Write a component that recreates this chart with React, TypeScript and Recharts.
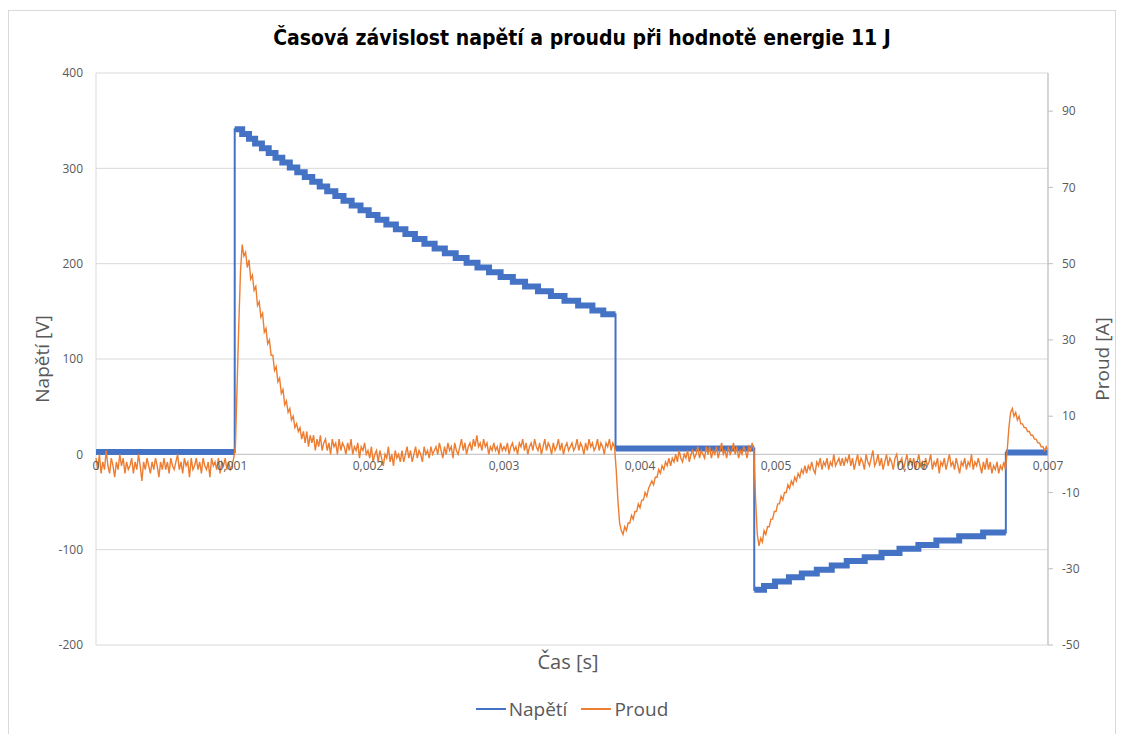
import React from 'react';
import {
  LineChart,
  Line,
  XAxis,
  YAxis,
  CartesianGrid,
  Legend,
  ReferenceLine,
  ReferenceDot,
} from 'recharts';

// osa X [s]
const xTicks = [0, 0.001, 0.002, 0.003, 0.004, 0.005, 0.006, 0.007];
const voltageTicks = [-200, -100, 0, 100, 200, 300, 400];
const currentTicks = [-50, -30, -10, 10, 30, 50, 70, 90];
const legendNames = ['Napětí', 'Proud'];

// Napětí – schodovitý průběh (začátky úrovní v ms, hodnoty ve V)
const voltageTimesMs = [
  0, 1.02, 1.075, 1.125, 1.17, 1.22, 1.27, 1.32, 1.37, 1.425, 1.48, 1.535, 1.59, 1.645, 1.7,
  1.76, 1.82, 1.88, 1.945, 2.005, 2.07, 2.135, 2.205, 2.275, 2.345, 2.415, 2.49, 2.565, 2.645,
  2.725, 2.805, 2.89, 2.975, 3.065, 3.155, 3.25, 3.345, 3.445, 3.545, 3.65, 3.73, 3.82, 4.84,
  4.912, 4.993, 5.095, 5.19, 5.3, 5.41, 5.52, 5.652, 5.776, 5.908, 6.047, 6.179, 6.347, 6.523,
  6.69, 7.0,
];
const voltageLevels = [
  2.5, 341, 336, 331, 326, 321, 316, 311, 306, 301, 296, 291, 286, 281, 276,
  271, 266, 261, 256, 251, 246, 241, 236, 231, 226, 221, 216, 211, 206,
  201, 196, 191, 186, 181, 176, 171, 166, 161, 156, 151, 147, 6, -142,
  -138, -133.5, -129, -125, -121, -116.5, -112, -108, -103.5, -99, -95, -90.5, -86, -82,
  2, 2,
];

// Proud – vzorky po 0,0125 ms, jeden řádek = 0,5 ms (A)
const currentSampleMs = 0.0125;
const currentRows = [
  // 0,0 ms
  [-1, -4, 0, -5, -2, -4, 1, -3, -5, -1, -3, -6, -2, -4, 0, -3, -1, -5, -2, -4,
   -3, -1, -5, -2, -4, 0, -3, -7, -2, -4, -1, -3, -5, -2, -4, -1, -3, -6, -2, -4],
  // 0,5 ms
  [-1, -4, -2, -5, -1, -3, -4, -2, 0, -4, -2, -5, -1, -3, -2, -6, -1, -4, -3, -1,
   -4, -2, -5, -1, -3, -4, -2, -6, -1, -3, -2, -4, -1, -5, -2, -3, -1, -4, -2, -4],
  // 1,0 ms
  [-3, -1, 2, 18, 34, 48, 55, 52, 53, 49, 51, 46, 47, 43, 44, 39, 40, 36, 37, 32,
   33, 29, 30, 26, 26, 22, 23, 19, 20, 16, 17, 13, 14, 11, 12, 9, 10, 7, 8, 6],
  // 1,5 ms
  [7, 4, 6, 3, 6, 2, 5, 3, 5, 1, 4, 2, 5, 1, 3, 4, 1, 3, 0, 4,
   2, 3, 0, 4, 1, 3, 2, 0, 3, 1, 4, 0, 2, 1, 3, -1, 2, 1, 3, 0],
  // 2,0 ms
  [1, -1, 2, -2, 0, 1, -2, 1, -1, -3, 0, -1, 2, -2, 0, -3, 1, -1, 0, -2,
   1, -2, 0, 2, -1, 1, -2, 0, 2, -1, 1, 0, -2, 2, 0, 1, -1, 2, 0, 1],
  // 2,5 ms
  [2, 0, 3, 1, -1, 2, 0, 3, 1, 2, -1, 3, 1, 0, 2, 4, 1, 3, 0, 2,
   3, 1, 4, 2, 5, 2, 3, 1, 4, 2, 3, 0, 2, 1, 3, 1, 2, 0, 3, 1],
  // 3,0 ms
  [2, 1, 3, 0, 2, 3, 1, 2, 0, 3, 2, 4, 1, 3, 0, 2, 3, 1, 4, 2,
   1, 3, 0, 2, 4, 1, 3, 2, 0, 3, 1, 2, 4, 1, 3, 0, 2, 3, 1, 2],
  // 3,5 ms
  [3, 1, 2, 4, 1, 3, 2, 0, 3, 1, 4, 2, 3, 1, 2, 4, 1, 3, 2, 0,
   3, 2, 4, 1, 3, 2, -4, -12, -18, -20, -21, -19, -20, -18, -18, -16, -17, -15, -15, -13],
  // 4,0 ms
  [-14, -12, -12, -10, -11, -9, -8, -7, -8, -6, -6, -4, -5, -3, -4, -2, -3, -1, -3, -1,
   -2, 0, -2, 1, -1, -2, 0, -1, 1, -2, 0, 1, -1, 0, 2, -1, 1, 0, -1, 2],
  // 4,5 ms
  [0, 2, -1, 1, 0, 2, -1, 1, 3, 0, 1, -1, 2, 0, 1, 3, 0, 2, -1, 1,
   0, 2, 1, -1, 2, 1, 3, 1, -12, -21, -24, -22, -23, -20, -21, -19, -19, -17, -17, -15],
  // 5,0 ms
  [-15, -13, -13, -11, -12, -10, -10, -8, -9, -7, -8, -6, -7, -5, -6, -4, -5, -3, -5, -3,
   -4, -2, -4, -5, -2, -3, -1, -4, -2, -3, -1, -4, -2, -3, 0, -3, -2, -1, -3, -1],
  // 5,5 ms
  [-3, -1, -2, 0, -3, -1, -4, -2, 0, -3, -1, -2, -4, 0, -2, -3, -1, 1, -3, -2,
   0, -3, -1, -4, -2, 0, -3, -1, -2, -4, -1, 0, -3, -2, -1, -4, -2, 0, -3, -1],
  // 6,0 ms
  [-3, -1, -4, -2, 0, -3, -2, -4, -1, -3, -2, 0, -4, -2, -3, -1, -5, -2, -3, -1,
   -4, -2, 0, -3, -2, -4, -1, -3, -5, -2, -3, -1, -4, -2, -3, 0, -4, -2, -3, -1],
  // 6,5 ms
  [-3, -5, -2, -4, -1, -4, -2, -5, -3, -4, -2, -5, -3, -4, -2, -4, 1, 7, 11, 12,
   10, 11, 9, 10, 8, 8, 7, 7, 6, 6, 5, 5, 4, 4, 3, 3, 2, 2, 1, 2],
  // 7,0 ms
  [1],
];
const currentRowMs = 0.5;

const colors = {
  voltage: '#4472C4',
  current: '#ED7D31',
  grid: '#d9d9d9',
  axis: '#bfbfbf',
  text: '#595959',
};

const font = '"Open Sans", "Noto Sans", sans-serif';

const voltageData = voltageTimesMs.map((t, i) => ({ t: t / 1000, v: voltageLevels[i] }));

// silné úseky bez svislých skoků
const voltagePlateaus: { t: number; v: number | null }[] = [];
voltageData.forEach((p, i) => {
  voltagePlateaus.push(p);
  const next = voltageData[i + 1];
  if (next && Math.abs(next.v - p.v) > 50) {
    voltagePlateaus.push({ t: next.t, v: p.v });
    voltagePlateaus.push({ t: next.t, v: null });
  }
});

const currentData = currentRows.flatMap((row, r) =>
  row.map((a, j) => ({ t: (r * currentRowMs + j * currentSampleMs) / 1000, a })),
);

const fmtTime = (t: number) => String(t).replace('.', ',');

const LeftTitle = ({ viewBox }: any) => {
  const x = viewBox.x + 34;
  const y = viewBox.y + viewBox.height / 2;
  return (
    <text x={x} y={y} transform={`rotate(-90 ${x} ${y})`} textAnchor="middle" dominantBaseline="central"
      fill={colors.text} fontSize={19} fontFamily={font}>
      Napětí [V]
    </text>
  );
};

const RightTitle = ({ viewBox }: any) => {
  const x = viewBox.x + 54;
  const y = viewBox.y + viewBox.height / 2;
  return (
    <text x={x} y={y} transform={`rotate(-90 ${x} ${y})`} textAnchor="middle" dominantBaseline="central"
      fill={colors.text} fontSize={19} fontFamily={font}>
      Proud [A]
    </text>
  );
};

const BottomTitle = ({ viewBox }: any) => (
  <text x={viewBox.x + viewBox.width / 2 - 4} y={viewBox.y + 16} textAnchor="middle" dominantBaseline="central"
    fill={colors.text} fontSize={20} fontFamily={font}>
    Čas [s]
  </text>
);

const renderLegend = ({ payload }: any) => (
  <div style={{ height: 30, display: 'flex', justifyContent: 'center', alignItems: 'center', paddingLeft: 36, fontFamily: font, fontSize: 19, color: colors.text }}>
    {(payload || [])
      .filter((item: any) => legendNames.includes(item.value))
      .map((item: any) => (
        <div key={item.value} style={{ display: 'flex', alignItems: 'center', marginRight: 14 }}>
          <svg width={30} height={4} style={{ marginRight: 3 }}>
            <line x1={0} y1={2} x2={30} y2={2} stroke={item.color} strokeWidth={2} />
          </svg>
          <span>{item.value}</span>
        </div>
      ))}
  </div>
);

export default function App() {
  return (
    <div style={{ position: 'absolute', left: 0, top: 0, width: 1122, height: 734, background: '#fff', overflow: 'hidden' }}>
      <div style={{ position: 'absolute', left: 8, top: 10, width: 1106, height: 740, border: '1px solid #d9d9d9' }} />
      <div style={{
        position: 'absolute', left: 182, top: 26, width: 800, textAlign: 'center',
        fontFamily: '"Liberation Sans Narrow", "DejaVu Sans Condensed", sans-serif', fontWeight: 700, fontSize: 21, color: '#000',
      }}>
        Časová závislost napětí a proudu při hodnotě energie 11 J
      </div>
      <div style={{ position: 'absolute', left: 0, top: 0 }}>
        <LineChart width={1122} height={734} margin={{ top: 73, right: 8, bottom: 10, left: 8 }}>
          <CartesianGrid yAxisId="v" stroke={colors.grid} />
          <XAxis
            type="number"
            dataKey="t"
            domain={[0, 0.007]}
            ticks={xTicks}
            tick={false}
            tickLine={false}
            axisLine={false}
            height={49}
            label={{ content: BottomTitle }}
          />
          <YAxis
            yAxisId="v"
            orientation="left"
            domain={[-200, 400]}
            ticks={voltageTicks}
            width={88}
            axisLine={false}
            tickLine={false}
            tickMargin={7}
            tick={{ fill: colors.text, fontSize: 12, fontFamily: font }}
            label={{ content: LeftTitle }}
          />
          <YAxis
            yAxisId="a"
            orientation="right"
            domain={[-50, 100]}
            ticks={currentTicks}
            width={66}
            axisLine={{ stroke: colors.axis }}
            tickLine={{ stroke: colors.axis }}
            tickSize={5}
            tickMargin={9}
            tick={{ fill: colors.text, fontSize: 12, fontFamily: font, textAnchor: 'start' }}
            label={{ content: RightTitle }}
          />
          <ReferenceLine yAxisId="v" y={0} stroke="#c6c6c6" />
          {xTicks.map((t) => (
            <ReferenceDot
              key={t}
              yAxisId="v"
              x={t}
              y={0}
              r={0.5}
              fill="none"
              stroke="none"
              label={{ value: fmtTime(t), position: 'bottom', offset: 7, fill: colors.text, fontSize: 12, fontFamily: font }}
            />
          ))}
          <Line
            yAxisId="v"
            data={voltageData}
            dataKey="v"
            name="Napětí"
            type="stepAfter"
            stroke={colors.voltage}
            strokeWidth={2}
            dot={false}
            activeDot={false}
            isAnimationActive={false}
          />
          <Line
            yAxisId="v"
            data={voltagePlateaus}
            dataKey="v"
            name="Napětí (úrovně)"
            type="stepAfter"
            stroke={colors.voltage}
            strokeWidth={6}
            dot={false}
            activeDot={false}
            legendType="none"
            isAnimationActive={false}
          />
          <Line
            yAxisId="a"
            data={currentData}
            dataKey="a"
            name="Proud"
            type="linear"
            stroke={colors.current}
            strokeWidth={1.4}
            dot={false}
            activeDot={false}
            isAnimationActive={false}
          />
          <Legend verticalAlign="bottom" align="center" content={renderLegend} />
        </LineChart>
      </div>
    </div>
  );
}
